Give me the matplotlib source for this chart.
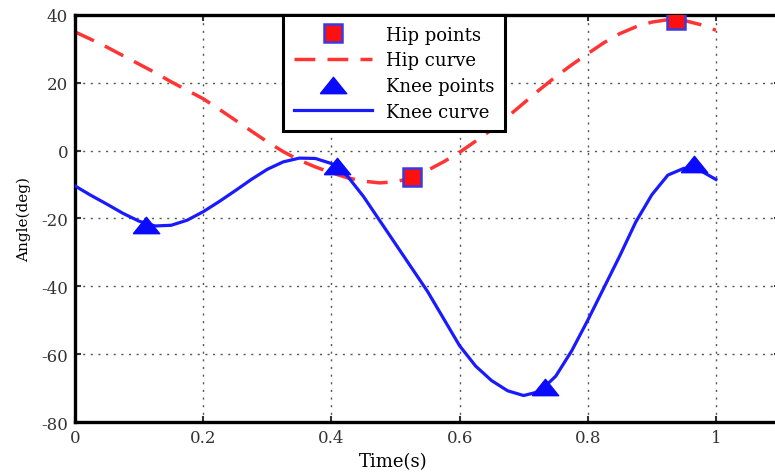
import matplotlib.pyplot as plt

# =========================
# DATA
# =========================
hip_t = [0.0, 0.025, 0.05, 0.075, 0.10, 0.125, 0.15, 0.175, 0.20, 0.225, 0.25, 0.275,
         0.30, 0.325, 0.35, 0.375, 0.40, 0.425, 0.45, 0.475, 0.50, 0.525, 0.55, 0.575,
         0.60, 0.625, 0.65, 0.675, 0.70, 0.725, 0.75, 0.775, 0.80, 0.825, 0.85, 0.875,
         0.90, 0.925, 0.95, 0.975, 1.0]
hip_angle = [35.0, 32.8, 30.5, 28.0, 25.5, 23.0, 20.3, 17.8, 15.3, 12.2, 9.0, 5.8,
             2.6, -0.3, -2.8, -4.8, -6.5, -8.0, -9.0, -9.5, -9.2, -8.0, -5.8, -3.3,
             -0.5, 2.8, 6.2, 10.0, 14.0, 18.0, 21.8, 25.3, 28.6, 31.8, 34.5, 36.5,
             37.9, 38.6, 38.4, 37.2, 35.5]

knee_t = [0.0, 0.025, 0.05, 0.075, 0.10, 0.125, 0.15, 0.175, 0.20, 0.225, 0.25, 0.275,
          0.30, 0.325, 0.35, 0.375, 0.40, 0.425, 0.45, 0.475, 0.50, 0.525, 0.55, 0.575,
          0.60, 0.625, 0.65, 0.675, 0.70, 0.725, 0.75, 0.775, 0.80, 0.825, 0.85, 0.875,
          0.90, 0.925, 0.95, 0.975, 1.0]
knee_angle = [-10.4, -13.2, -15.8, -18.5, -20.8, -22.2, -22.0, -20.5, -18.0, -15.0, -11.8, -8.5,
              -5.5, -3.3, -2.2, -2.3, -3.8, -7.5, -13.5, -20.5, -27.5, -34.5, -41.5, -49.5,
              -57.5, -63.5, -67.8, -70.8, -72.2, -71.0, -66.5, -59.0, -50.0, -40.5, -31.0, -21.0,
              -13.0, -7.2, -5.2, -5.8, -8.5]

hip_pts_t = [0.525, 0.937]
hip_pts_angle = [-7.8, 38.6]

knee_pts_t = [0.11, 0.408, 0.733, 0.966]
knee_pts_angle = [-21.8, -4.5, -69.8, -3.9]

x_ticks = [0, 0.2, 0.4, 0.6, 0.8, 1.0]
x_tick_labels = ["0", "0.2", "0.4", "0.6", "0.8", "1"]
y_ticks = [-80, -60, -40, -20, 0, 20, 40]

# =========================
# PLOT
# =========================
plt.rcParams['font.family'] = ['DejaVu Serif']
plt.rcParams['axes.unicode_minus'] = False

# wide, flat triangle like the reference markers
flat_tri = [(-1.0, -0.62), (1.0, -0.62), (0.0, 0.62), (-1.0, -0.62)]

fig = plt.figure(figsize=(7.75, 4.77), dpi=100)
ax = fig.add_axes([0.0968, 0.1132, 0.9097, 0.8533])

ax.plot(hip_pts_t, hip_pts_angle, linestyle='none', marker='s', markersize=13,
        markerfacecolor='#ff1010', markeredgecolor='#3a3ae0', markeredgewidth=1.8,
        label='Hip points', zorder=4)
ax.plot(hip_t, hip_angle, color='#ff3535', linewidth=2.5, dashes=(6, 3.5),
        label='Hip curve', zorder=2)
ax.plot(knee_pts_t, knee_pts_angle, linestyle='none', marker=flat_tri, markersize=19,
        color='#0a0aff', label='Knee points', zorder=4)
ax.plot(knee_t, knee_angle, color='#1a1aff', linewidth=2.3,
        label='Knee curve', zorder=3)

ax.set_xlim(0, 1.1)
ax.set_ylim(-80, 40)
ax.set_xticks(x_ticks)
ax.set_xticklabels(x_tick_labels)
ax.set_yticks(y_ticks)

ax.grid(True, linestyle=(0, (1.5, 4)), color='#555555', linewidth=1.0)
ax.tick_params(direction='in', top=True, right=True, length=4, width=1.5,
               labelsize=12, colors='#333333', pad=5)
for sp in ax.spines.values():
    sp.set_linewidth(2.4)

ax.set_xlabel('Time(s)', fontsize=13)
ax.set_ylabel('Angle(deg)', fontsize=11)
ax.xaxis.set_label_coords(0.451, -0.075)
ax.yaxis.set_label_coords(-0.062, 0.5)

leg = ax.legend(loc='upper center', bbox_to_anchor=(0.453, 1.0), borderaxespad=0,
                fancybox=False, edgecolor='black', framealpha=1, fontsize=13,
                handlelength=4.3, handletextpad=0.8, borderpad=0.6, labelspacing=0.42)
leg.get_frame().set_linewidth(2.2)

fig.savefig('out.png', dpi=100)
